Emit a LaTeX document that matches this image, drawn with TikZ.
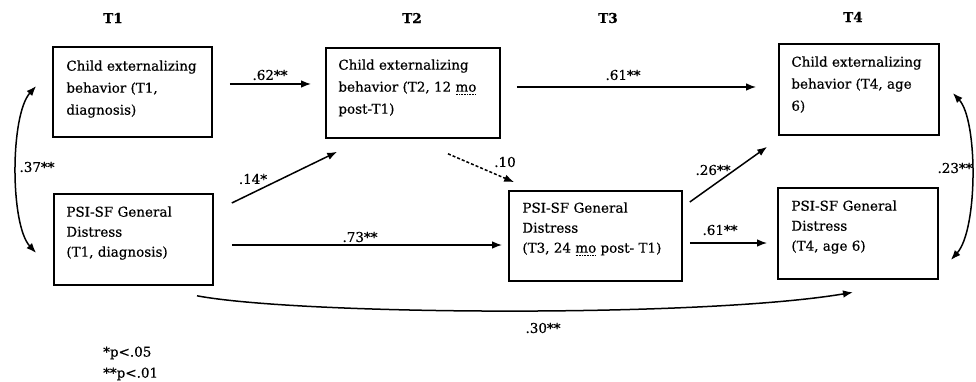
\documentclass[tikz,border=0pt]{standalone}
\usepackage{fontspec}
\setmainfont{DejaVu Serif}[FakeBold=0.5]
\usetikzlibrary{arrows.meta}
\newsavebox{\ulbox}
\newcommand{\dotul}[1]{\sbox{\ulbox}{#1}\rlap{\raisebox{-3pt}{\hbox to \wd\ulbox{\leaders\hbox to 1.6pt{\hss\rule{0.9pt}{0.7pt}\hss}\hfill}}}\usebox{\ulbox}}
\begin{document}
\begin{tikzpicture}[x=1pt,y=-1pt,
  box/.style={draw, line width=1.6pt, inner sep=0pt},
  txt/.style={anchor=north west, inner sep=0pt, align=left, font=\fontsize{13.5}{22}\selectfont},
  psitxt/.style={anchor=north west, inner sep=0pt, align=left, font=\fontsize{13.5}{20}\selectfont},
  lbl/.style={inner sep=0pt, font=\fontsize{13.5}{16}\selectfont},
  hdr/.style={inner sep=0pt, font=\bfseries\fontsize{13.5}{16}\selectfont},
  arr/.style={line width=1.5pt, -{Latex[length=10pt,width=7.5pt]}},
  dblarr/.style={line width=1.5pt, {Latex[length=10pt,width=7.5pt]}-{Latex[length=10pt,width=7.5pt]}}
]
\useasboundingbox (0,0) rectangle (976,382);

% headers
\node[hdr] (h1) at (113,18) {T1};
\node[hdr] (h2) at (412,18) {T2};
\node[hdr] (h3) at (608,18) {T3};
\node[hdr] (h4) at (853,17) {T4};

% boxes
\node[box, minimum width=159pt, minimum height=90pt] (A) at (132.5,92) {};
\node[box, minimum width=174pt, minimum height=90pt] (B) at (413,93) {};
\node[box, minimum width=160pt, minimum height=91pt] (C) at (859,89.5) {};
\node[box, minimum width=159pt, minimum height=91pt] (D) at (133.5,239.5) {};
\node[box, minimum width=173pt, minimum height=90pt] (E) at (595.5,236) {};
\node[box, minimum width=160pt, minimum height=91pt] (F) at (858,233.5) {};

% box texts
\node[txt] (At) at ([xshift=14pt,yshift=-14pt]A.north west) {Child externalizing\\behavior (T1,\\diagnosis)};
\node[txt] (Bt) at ([xshift=13pt,yshift=-12pt]B.north west) {Child externalizing\\behavior (T2, 12 \dotul{mo}\\post-T1)};
\node[txt] (Ct) at ([xshift=13pt,yshift=-13pt]C.north west) {Child externalizing\\behavior (T4, age\\6)};
\node[psitxt] (Dt) at ([xshift=13pt,yshift=-13pt]D.north west) {PSI-SF General\\Distress\\(T1, diagnosis)};
\node[psitxt] (Et) at ([xshift=14pt,yshift=-12pt]E.north west) {PSI-SF General\\Distress\\(T3, 24 \dotul{mo} post- T1)};
\node[psitxt] (Ft) at ([xshift=14pt,yshift=-13pt]F.north west) {PSI-SF General\\Distress\\(T4, age 6)};

% straight paths
\draw[arr] ([xshift=17pt,yshift=8pt]A.east) -- ([xshift=-14pt,yshift=9pt]B.west);
\draw[arr] ([xshift=16pt,yshift=6pt]B.east) -- ([xshift=-22pt,yshift=2.5pt]C.west);
\draw[arr] ([xshift=18pt,yshift=36.5pt]D.east) -- ([xshift=12pt,yshift=-13pt]B.south west);
\draw[arr, dash pattern=on 3pt off 2pt] ([xshift=35pt,yshift=-15pt]B.south) -- ([xshift=6pt,yshift=8pt]E.north west);
\draw[arr] ([xshift=18pt,yshift=-5.5pt]D.east) -- ([xshift=-6pt,yshift=-9pt]E.west);
\draw[arr] ([xshift=7pt,yshift=34pt]E.east) -- ([xshift=-11pt,yshift=-11pt]C.south west);
\draw[arr] ([xshift=7pt,yshift=-7pt]E.east) -- ([xshift=-10pt,yshift=-9.5pt]F.west);

% curved paths
\draw[arr] ([xshift=63.5pt,yshift=-10pt]D.south) .. controls (300,315) and (700,318) .. ([xshift=-5pt,yshift=-12.5pt]F.south);
\draw[dblarr] ([xshift=-17pt,yshift=-13.5pt]D.west) .. controls (10,225) and (10,115) .. ([xshift=-16pt,yshift=6pt]A.west);
\draw[dblarr] ([xshift=13pt,yshift=-3.5pt]C.east) .. controls (978,120) and (978,230) .. ([xshift=12pt,yshift=-26.5pt]F.east);

% coefficient labels
\node[lbl] (l62) at (270,75) {.62**};
\node[lbl] (l61a) at (623,75) {.61**};
\node[lbl] (l14) at (253,179) {.14*};
\node[lbl] (l10) at (505,162) {.10};
\node[lbl] (l73) at (360,237) {.73**};
\node[lbl] (l26) at (713,170) {.26**};
\node[lbl] (l61b) at (720,230) {.61**};
\node[lbl] (l23) at (955,168) {.23**};
\node[lbl] (l37) at (37,167) {.37**};
\node[lbl] (l30) at (543,328) {.30**};

% footnote
\node[lbl, anchor=west] (n1) at (103,353) {*p<.05};
\node[lbl, anchor=west] (n2) at (103,374) {**p<.01};
\end{tikzpicture}
\end{document}
